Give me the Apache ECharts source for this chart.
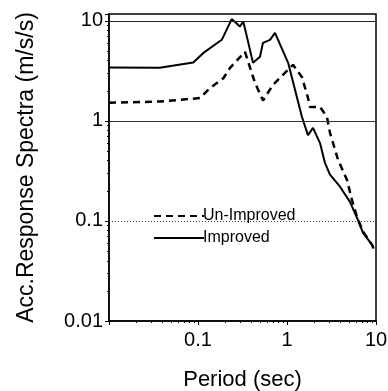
<!DOCTYPE html>
<html>
<head>
<meta charset="utf-8">
<script src="https://cdn.jsdelivr.net/npm/echarts@6/dist/echarts.min.js"></script>
<style>
html,body{margin:0;padding:0;background:#fff;}
#chart{width:388px;height:391px;}
</style>
</head>
<body>
<div id="chart"></div>
<script>
var periodsImproved = [0.01, 0.037, 0.0885, 0.114, 0.185, 0.239, 0.296, 0.323, 0.415, 0.497, 0.537, 0.644, 0.733, 1.03, 1.47, 1.72, 1.96, 2.35, 2.67, 3.04, 3.94, 5.10, 6.28, 7.15, 9.0, 9.4];
var accImproved = [3.41, 3.39, 3.83, 4.75, 6.46, 10.4, 8.77, 9.85, 3.8, 4.37, 6.03, 6.46, 7.59, 3.8, 1.10, 0.72, 0.85, 0.60, 0.38, 0.29, 0.22, 0.155, 0.102, 0.076, 0.058, 0.053];

var periodsUnimproved = [0.01, 0.037, 0.105, 0.136, 0.193, 0.229, 0.337, 0.437, 0.537, 0.696, 0.90, 1.17, 1.47, 1.72, 1.81, 2.35, 2.81, 3.04, 3.74, 4.72, 5.37, 6.12, 7.15, 9.0, 9.4];
var accUnimproved = [1.52, 1.56, 1.69, 2.12, 2.67, 3.39, 4.9, 2.4, 1.6, 2.29, 2.88, 3.63, 2.75, 1.70, 1.38, 1.38, 1.10, 0.76, 0.41, 0.257, 0.162, 0.11, 0.078, 0.058, 0.053];

var referenceLevels = [10, 1, 0.1];
var seriesNames = ['Un-Improved', 'Improved'];

function pairs(xs, ys) {
  return xs.map(function (x, i) { return [x, ys[i]]; });
}

var FONT = 'Liberation Sans';
var chart = echarts.init(document.getElementById('chart'), null, {renderer: 'canvas'});
chart.setOption({
  animation: false,
  backgroundColor: '#fff',
  textStyle: {fontFamily: FONT, color: '#000'},
  grid: {left: 109, right: 12, top: 14, bottom: 70, show: true, borderColor: '#000', borderWidth: 1.5, backgroundColor: 'transparent', containLabel: false, outerBoundsMode: 'none'},
  legend: {
    data: seriesNames,
    orient: 'vertical',
    left: 148, top: 203,
    itemWidth: 50, itemHeight: 14, itemGap: 6,
    itemStyle: {color: 'transparent', borderWidth: 0, opacity: 0},
    textStyle: {fontFamily: FONT, fontSize: 16, color: '#000', padding: [0,0,0,-6]}
  },
  xAxis: {
    type: 'log', logBase: 10, min: 0.01, max: 10,
    name: 'Period (sec)', nameLocation: 'middle', nameGap: 48,
    nameTextStyle: {fontFamily: FONT, fontSize: 22, color: '#000'},
    axisLine: {show: true, lineStyle: {color: '#000', width: 1.5}},
    axisTick: {show: true, length: 4, lineStyle: {color: '#000'}},
    minorTick: {show: true, splitNumber: 9, length: 2, lineStyle: {color: '#000'}},
    axisLabel: {fontFamily: FONT, fontSize: 20, color: '#000', margin: 9, showMinLabel: false,
      formatter: function (v) { return String(+v.toPrecision(3)); }},
    splitLine: {show: false}
  },
  yAxis: {
    type: 'log', logBase: 10, min: 0.01, max: 11.7,
    name: 'Acc.Response Spectra (m/s/s)', nameLocation: 'middle', nameGap: 71,
    nameTextStyle: {fontFamily: FONT, fontSize: 23, color: '#000'},
    axisLine: {show: true, lineStyle: {color: '#000', width: 1.5}},
    axisTick: {show: true, length: 4, lineStyle: {color: '#000'}},
    minorTick: {show: true, splitNumber: 9, length: 2, lineStyle: {color: '#000'}},
    axisLabel: {fontFamily: FONT, fontSize: 20, color: '#000', margin: 6, showMaxLabel: false,
      formatter: function (v) { return String(+v.toPrecision(3)); }},
    splitLine: {show: false}
  },
  series: [
    {
      name: seriesNames[0], type: 'line', data: pairs(periodsUnimproved, accUnimproved),
      symbol: 'none', smooth: false,
      lineStyle: {color: '#000', width: 2.5, type: [7, 5]},
      itemStyle: {color: '#000'},
      markLine: {
        silent: true, symbol: 'none', label: {show: false},
        data: [
          {yAxis: referenceLevels[0], lineStyle: {color: '#222', width: 1, type: 'solid'}},
          {yAxis: referenceLevels[1], lineStyle: {color: '#333', width: 1.2, type: 'solid'}},
          {yAxis: referenceLevels[2], lineStyle: {color: '#444', width: 1, type: [1, 2]}}
        ]
      },
      z: 3
    },
    {
      name: seriesNames[1], type: 'line', data: pairs(periodsImproved, accImproved),
      symbol: 'none', smooth: false,
      lineStyle: {color: '#000', width: 2},
      itemStyle: {color: '#000'},
      z: 4
    }
  ]
});
</script>
</body>
</html>
